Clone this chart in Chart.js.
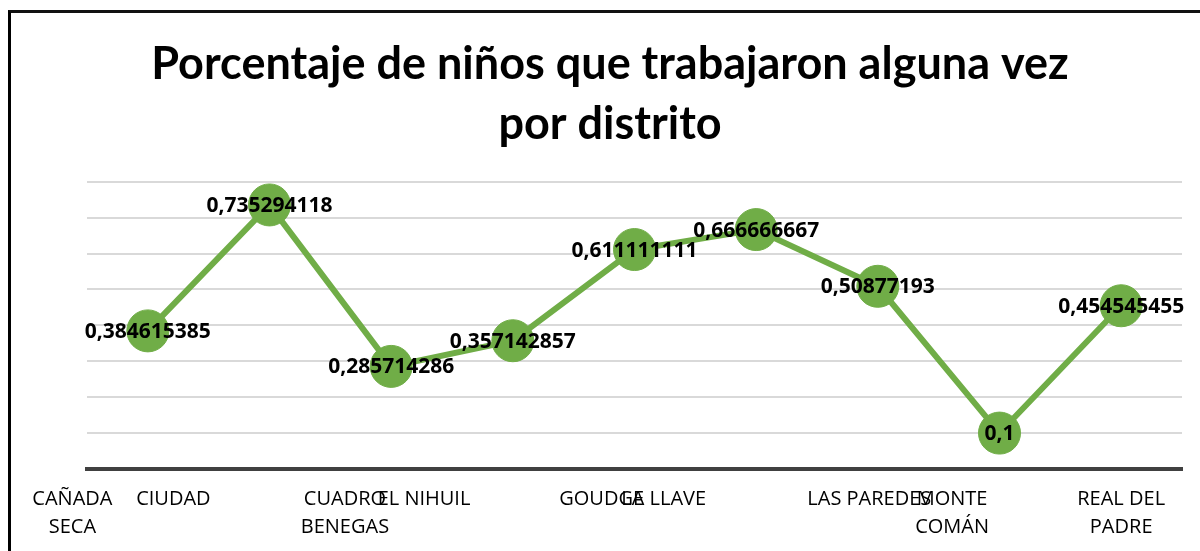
<!DOCTYPE html>
<html>
<head>
<meta charset="utf-8">
<script src="https://cdn.jsdelivr.net/npm/chart.js@4"></script>
<style>
  html, body { margin: 0; padding: 0; background: #fff; }
  #wrap { position: relative; width: 1200px; height: 551px; overflow: hidden; }
  #frame {
    position: absolute; left: 8px; top: 10px; width: 1400px; height: 800px;
    border: 3px solid #000; border-top-color: #111; box-sizing: border-box;
  }
  #chart { position: absolute; left: 0; top: 0; }
</style>
</head>
<body>
<div id="wrap">
  <div id="frame"></div>
  <canvas id="chart" width="1200" height="551"></canvas>
</div>
<script>
const districts = [
  "CAÑADA SECA", "CIUDAD", "CUADRO BENEGAS", "EL NIHUIL", "GOUDGE",
  "LA LLAVE", "LAS PAREDES", "MONTE COMÁN", "REAL DEL PADRE"
];
const values = [
  0.384615385, 0.735294118, 0.285714286, 0.357142857, 0.611111111,
  0.666666667, 0.50877193, 0.1, 0.454545455
];
// where Excel ended up drawing each category label (in category units)
const tickPos = [-0.62, 0.21, 1.62, 2.27, 3.73, 4.24, 5.93, 6.61, 8.0];
const tickLines = [
  ["CAÑADA", "SECA"], ["CIUDAD"], ["CUADRO", "BENEGAS"], ["EL NIHUIL"],
  ["GOUDGE"], ["LA LLAVE"], ["LAS PAREDES"], ["MONTE", "COMÁN"], ["REAL DEL", "PADRE"]
];

const green = "#70ad47";

const valueLabels = {
  id: "valueLabels",
  afterDatasetsDraw(c) {
    const ctx = c.ctx;
    const meta = c.getDatasetMeta(0);
    ctx.save();
    ctx.font = "bold 21px 'Open Sans'";
    ctx.fillStyle = "#000";
    ctx.textAlign = "center";
    ctx.textBaseline = "middle";
    meta.data.forEach((pt, i) => {
      const v = c.data.datasets[0].data[i];
      const txt = String(Number(v.toFixed(9))).replace(".", ",");
      ctx.fillText(txt, pt.x, pt.y + 1);
    });
    ctx.restore();
  },
};

new Chart(document.getElementById("chart"), {
  type: "line",
  data: {
    labels: districts,
    datasets: [{
      data: values,
      borderColor: green,
      borderWidth: 6,
      backgroundColor: green,
      pointRadius: 21,
      pointBackgroundColor: green,
      pointBorderColor: green,
      pointBorderWidth: 1,
      tension: 0,
      clip: false,
    }],
  },
  options: {
    responsive: false,
    animation: false,
    layout: { autoPadding: false, padding: { left: 38, right: 18, top: 0, bottom: 10 } },
    plugins: {
      legend: { display: false },
      tooltip: { enabled: false },
      title: {
        display: true,
        text: ["Porcentaje de niños que trabajaron alguna vez", "por distrito"],
        color: "#000",
        font: { family: "Lato", size: 45, weight: "bold", lineHeight: 1.33 },
        padding: { top: 35, bottom: 27 },
      },
    },
    scales: {
      x: { display: false, offset: true },
      xl: {
        type: "linear",
        position: "bottom",
        min: -0.5,
        max: 8.5,
        afterBuildTicks(scale) {
          scale.ticks = tickPos.map((v) => ({ value: v }));
        },
        afterFit(scale) {
          scale.height = 72;
        },
        grid: { display: false, drawTicks: false },
        border: { display: true, color: "#404040", width: 4 },
        ticks: {
          autoSkip: false,
          maxRotation: 0,
          padding: 16,
          color: "#000",
          font: { family: "Open Sans", size: 20, lineHeight: 1.4 },
          callback: (v, i) => tickLines[i],
        },
      },
      y: {
        min: 0,
        max: 0.8,
        afterFit(scale) {
          scale.width = 49;
        },
        ticks: { display: false, stepSize: 0.1 },
        border: { display: false },
        grid: { color: "#d9d9d9", lineWidth: 2, drawTicks: false },
      },
    },
  },
  plugins: [valueLabels],
});
</script>
</body>
</html>
